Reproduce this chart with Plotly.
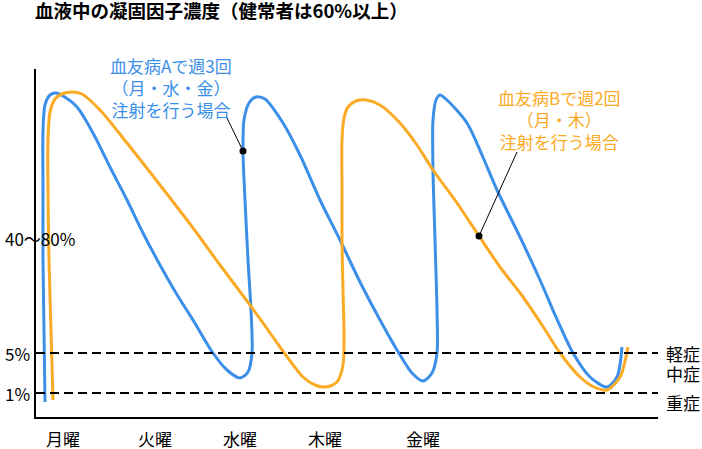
import plotly.graph_objects as go

# sketch of clotting factor level over a week (arbitrary units: x = time, y = level)
blue_x = [9, 8, 7, 7, 7, 9, 14, 20, 27, 41, 57, 74, 91, 107, 124, 140, 157, 177, 191, 204,
          212, 216, 215, 212, 209, 207, 208, 213, 220, 229, 247, 264, 284, 304, 324, 344, 364,
          376, 387, 396, 401, 401, 399, 397, 397, 400, 404, 411, 431, 446, 461, 484, 504, 520,
          537, 554, 571, 581, 586]
blue_y = [15, 87, 157, 227, 287, 312, 322, 324, 321, 310, 284, 250, 217, 184, 152, 124, 97, 64, 47, 39,
          45, 64, 107, 157, 217, 266, 297, 314, 320, 318, 294, 262, 217, 177, 135, 97, 62,
          44, 36, 44, 64, 107, 177, 247, 297, 317, 322, 317, 294, 262, 227, 180, 137, 100,
          64, 40, 30, 40, 70]

orange_x = [17, 15, 13, 12, 12, 14, 19, 26, 36, 46, 64, 91, 124, 157, 184, 214, 232, 249, 267, 279,
            290, 301, 307, 308, 307, 306, 306, 306, 308, 312, 320, 330, 344, 364, 381, 397, 421,
            443, 464, 487, 506, 524, 544, 558, 571, 584, 592]
orange_y = [17, 87, 157, 227, 277, 305, 318, 323, 325, 323, 307, 274, 232, 189, 152, 112, 87, 63, 40, 32,
            30, 35, 52, 82, 127, 177, 227, 277, 299, 310, 316, 317, 312, 294, 272, 247, 214,
            181, 150, 120, 92, 64, 40, 30, 27, 40, 70]

blue_color = "#3b8fe8"
orange_color = "#fbaa25"

x_max = 622
y_max = 348

# y labels (left side)
level_labels = ["40〜80%", "5%", "1%"]
level_values = [179, 64, 24]

# dashed threshold lines
threshold_values = [64, 24]

# severity labels (right side)
severity_labels = ["軽症", "中症", "重症"]
severity_values = [64, 44, 15]

# weekdays
day_labels = ["月曜", "火曜", "水曜", "木曜", "金曜"]
day_values = [27, 119, 204, 289, 387]

# annotation points
blue_dot = (207, 266)
orange_dot = (443, 181)

fig = go.Figure()

fig.add_trace(go.Scatter(x=blue_x, y=blue_y, mode="lines",
                         line=dict(color=blue_color, width=3, shape="spline", smoothing=0.8),
                         showlegend=False, hoverinfo="skip"))
fig.add_trace(go.Scatter(x=orange_x, y=orange_y, mode="lines",
                         line=dict(color=orange_color, width=3, shape="spline", smoothing=0.8),
                         showlegend=False, hoverinfo="skip"))
fig.add_trace(go.Scatter(x=[blue_dot[0], orange_dot[0]], y=[blue_dot[1], orange_dot[1]],
                         mode="markers", marker=dict(color="black", size=7),
                         showlegend=False, hoverinfo="skip"))

for v in threshold_values:
    fig.add_shape(type="line", xref="paper", x0=0, x1=1, y0=v, y1=v,
                  line=dict(color="black", width=2, dash="9px,5px"))

# leader lines
fig.add_shape(type="line", x0=blue_dot[0], y0=blue_dot[1], x1=191, y1=299,
              line=dict(color="black", width=1))
fig.add_shape(type="line", x0=orange_dot[0], y0=orange_dot[1], x1=481, y1=265,
              line=dict(color="black", width=1))

for t, v in zip(level_labels, level_values):
    fig.add_annotation(xref="paper", yref="paper", x=-33 / x_max, y=v / y_max, text=t,
                       showarrow=False, xanchor="left", yanchor="middle",
                       font=dict(size=17, color="black"))
for t, v in zip(severity_labels, severity_values):
    fig.add_annotation(xref="paper", yref="paper", x=647 / x_max, y=v / y_max, text=t,
                       showarrow=False, xanchor="center", yanchor="middle",
                       font=dict(size=17, color="black"))
for t, v in zip(day_labels, day_values):
    fig.add_annotation(xref="paper", yref="paper", x=v / x_max, y=-21 / y_max, text=t,
                       showarrow=False, xanchor="center", yanchor="middle",
                       font=dict(size=17, color="black"))

fig.add_annotation(x=135, y=330, text="血友病Aで週3回<br>（月・水・金）<br>注射を行う場合",
                   showarrow=False, font=dict(size=17, color=blue_color))
fig.add_annotation(x=523, y=298, text="血友病Bで週2回<br>（月・木）<br>注射を行う場合",
                   showarrow=False, font=dict(size=17, color=orange_color))

fig.update_layout(
    width=702, height=449,
    margin=dict(l=36, r=44, t=69, b=32),
    plot_bgcolor="white", paper_bgcolor="white",
    font=dict(family="Noto Sans CJK JP", color="black"),
    title=dict(text="<b>血液中の凝固因子濃度（健常者は60%以上）</b>",
               x=35 / 702, xanchor="left", xref="container",
               y=1 - 12 / 449, yanchor="middle",
               font=dict(size=18.5, color="black")),
    xaxis=dict(range=[0, x_max], showgrid=False, zeroline=False, showticklabels=False,
               showline=True, linecolor="black", linewidth=2, ticks=""),
    yaxis=dict(range=[0, y_max], showgrid=False, zeroline=False, showticklabels=False,
               showline=True, linecolor="black", linewidth=2, ticks=""),
)

fig.write_html("out.html", config={"displayModeBar": False},
               post_script="document.body.style.margin = '0';")
